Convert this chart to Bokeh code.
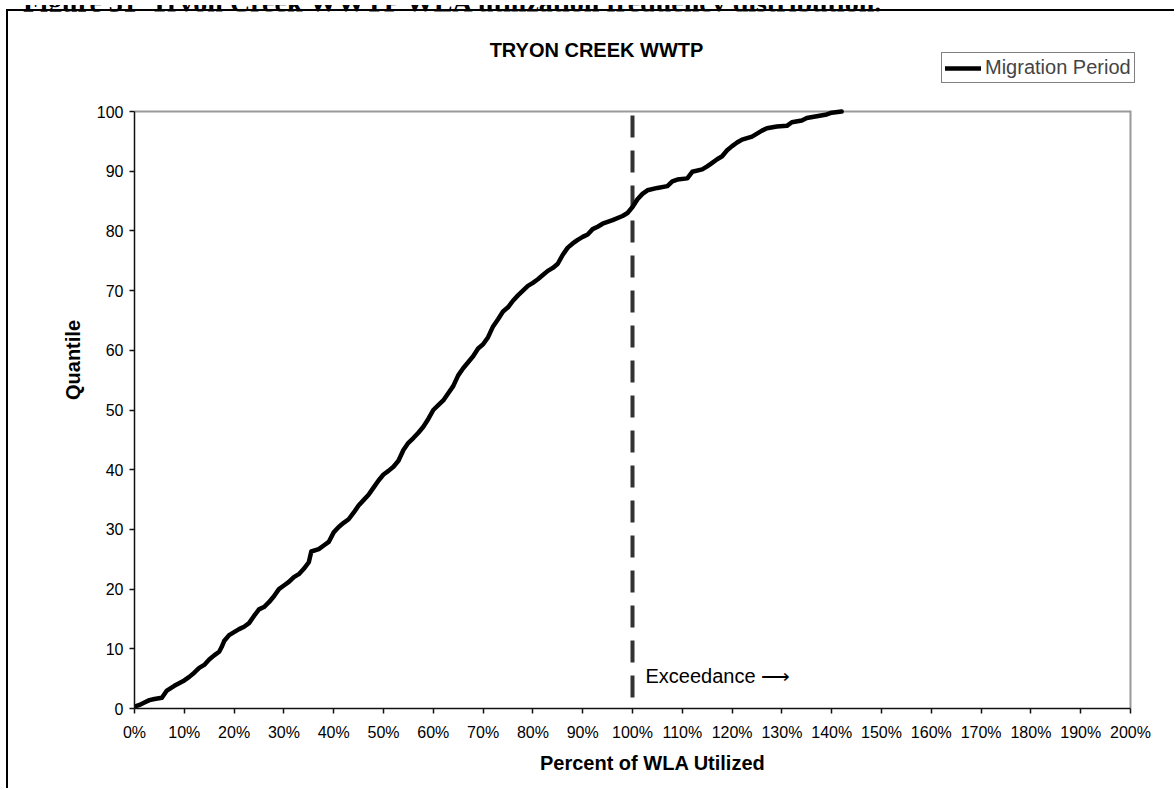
from bokeh.plotting import figure
from bokeh.layouts import column
from bokeh.models import (Range1d, FixedTicker, Label, Legend, LegendItem, Div)
from bokeh.embed import file_html
from bokeh.resources import INLINE

# ---- data ----
caption_text = "Figure 31  Tryon Creek WWTP WLA utilization frequency distribution."
title_text = "TRYON CREEK WWTP"
x_label = "Percent of  WLA Utilized"
y_label = "Quantile"
series_name = "Migration Period"
note_text = "Exceedance \u27f6"
threshold = 100
x_max = 200
y_max = 100

pct_utilized = [0, 1, 2, 3, 4, 5.5, 6.5, 8, 10, 11, 12, 13, 14, 15, 16, 17, 17.5, 18, 19, 20,
                21, 22, 23, 24, 25, 26, 27, 28, 29, 30, 31, 32, 33, 34, 35, 35.5, 37, 38, 39, 40,
                41, 42, 43, 44, 45, 46, 47, 48, 49, 50, 51, 52, 53, 54, 55, 56, 57, 58, 59, 60,
                61, 62, 63, 64, 65, 66, 67, 68, 69, 70, 71, 72, 73, 74, 75, 76, 77, 78, 79, 80,
                81, 82, 83, 84, 85, 86, 87, 88, 89, 90, 91, 92, 93, 94, 96, 98, 99, 100,
                101, 102, 103, 105, 107, 108, 109, 111, 112, 114, 115, 116, 117, 118, 119, 120,
                121, 122, 124, 125, 126, 127, 129, 131, 132, 134, 135, 137, 139, 140, 142]
quantile = [0.3, 0.6, 1.0, 1.4, 1.6, 1.8, 3.0, 3.8, 4.7, 5.3, 6.0, 6.8, 7.3, 8.2, 8.9, 9.5, 10.3, 11.3, 12.3, 12.8,
            13.3, 13.7, 14.3, 15.5, 16.6, 17.0, 17.8, 18.8, 20.0, 20.6, 21.2, 22.0, 22.5, 23.4, 24.5, 26.3, 26.7, 27.3, 27.9, 29.5,
            30.4, 31.1, 31.7, 32.8, 34.0, 34.9, 35.8, 37.0, 38.2, 39.2, 39.8, 40.5, 41.5, 43.3, 44.5, 45.3, 46.2, 47.2, 48.5, 50.0,
            50.8, 51.6, 52.8, 54.0, 55.8, 57.0, 58.0, 59.0, 60.3, 61.0, 62.2, 64.0, 65.2, 66.5, 67.2, 68.3, 69.2, 70.0, 70.8, 71.3,
            71.9, 72.6, 73.3, 73.8, 74.5, 76.0, 77.2, 77.9, 78.5, 79.0, 79.4, 80.3, 80.7, 81.2, 81.8, 82.5, 83.0, 84.0,
            85.3, 86.2, 86.8, 87.2, 87.5, 88.3, 88.6, 88.8, 89.9, 90.3, 90.8, 91.4, 92.0, 92.5, 93.5, 94.2,
            94.8, 95.3, 95.8, 96.3, 96.8, 97.2, 97.5, 97.6, 98.2, 98.5, 98.9, 99.2, 99.5, 99.8, 100]
x_ticks = list(range(0, 201, 10))
y_ticks = list(range(0, 101, 10))
x_tick_labels = [f"{t}%" for t in x_ticks]

FONT = "Liberation Sans"

# ---- layout geometry (pixels) ----
W, H = 1168, 779
ML, MB = 126, 82
PX_X = 4.98   # px per x unit
PX_Y = 5.97   # px per y unit
x_view_max = (W - ML) / PX_X
y_view_max = (H - MB) / PX_Y

p = figure(width=W, height=H, output_backend="svg", toolbar_location=None,
           x_range=Range1d(0, x_view_max), y_range=Range1d(0, y_view_max),
           min_border_left=ML, min_border_right=0, min_border_top=0, min_border_bottom=MB)
p.title.visible = False
p.styles = {"border-left": "2px solid black", "border-top": "2px solid black",
            "margin-left": "6px", "margin-top": "-10px"}
p.background_fill_color = "white"
p.border_fill_color = "white"
p.outline_line_color = None
p.xgrid.grid_line_color = None
p.ygrid.grid_line_color = None

for ax in (p.xaxis[0], p.yaxis[0]):
    ax.axis_line_color = "#111111"
    ax.axis_line_width = 1.5
    ax.major_tick_line_color = "#111111"
    ax.major_tick_line_width = 1.5
    ax.major_tick_in = 0
    ax.major_tick_out = 5
    ax.minor_tick_line_color = None
    ax.major_label_text_font = FONT
    ax.major_label_text_font_size = "16px"
    ax.major_label_text_color = "black"
    ax.axis_label_text_font = FONT
    ax.axis_label_text_font_size = "20px"
    ax.axis_label_text_font_style = "bold"
    ax.axis_label_text_color = "black"

p.xaxis.bounds = (0, x_max)
p.xaxis.ticker = FixedTicker(ticks=x_ticks)
p.xaxis.major_label_overrides = {t: lab for t, lab in zip(x_ticks, x_tick_labels)}
p.xaxis.axis_label = x_label
p.xaxis.major_label_standoff = 10
p.xaxis.axis_label_standoff = 8

p.yaxis.bounds = (0, y_max)
p.yaxis.ticker = FixedTicker(ticks=y_ticks)
p.yaxis.axis_label = y_label
p.yaxis.major_label_standoff = 6
p.yaxis.axis_label_standoff = 10

# grey plot-area border (top and right)
p.line([0, x_max, x_max], [y_max, y_max, 0], line_color="#999999", line_width=2,
       line_join="miter")

# 100% threshold line
p.line([threshold, threshold], [y_max, 0], line_color="#333333", line_width=4,
       line_dash="22 13", line_dash_offset=31)

r = p.line(pct_utilized, quantile, line_color="black", line_width=4.5,
           line_join="round", line_cap="round")

legend = Legend(items=[LegendItem(label=series_name, renderers=[r])],
                location=(807, 625), orientation="vertical",
                label_text_font=FONT, label_text_font_size="20px",
                label_height=20, glyph_height=20, glyph_width=36,
                label_standoff=4, padding=3, spacing=0, margin=0,
                border_line_color="black", border_line_width=1,
                background_fill_color="white", background_fill_alpha=1)
p.add_layout(legend, "center")

p.add_layout(Label(x=462, y=659, x_units="screen", y_units="screen", text=title_text,
                   text_font=FONT, text_font_size="20px", text_font_style="bold",
                   text_align="center", text_baseline="middle", text_color="black"))

p.add_layout(Label(x=threshold + 2.6, y=5.5, text=note_text, text_font=FONT,
                   text_font_size="20px", text_align="left", text_baseline="middle",
                   text_color="black"))

caption = Div(
    text=('<div style="position:relative; top:-16px; left:18px; white-space:pre; '
          'font: bold 28px \'Liberation Serif\'; line-height:28px; color:black;">'
          + caption_text + '</div>'),
    width=1176, height=9, styles={"overflow": "hidden"})

layout = column(caption, p, spacing=0)
open("out.html", "w").write(file_html(layout, INLINE))
